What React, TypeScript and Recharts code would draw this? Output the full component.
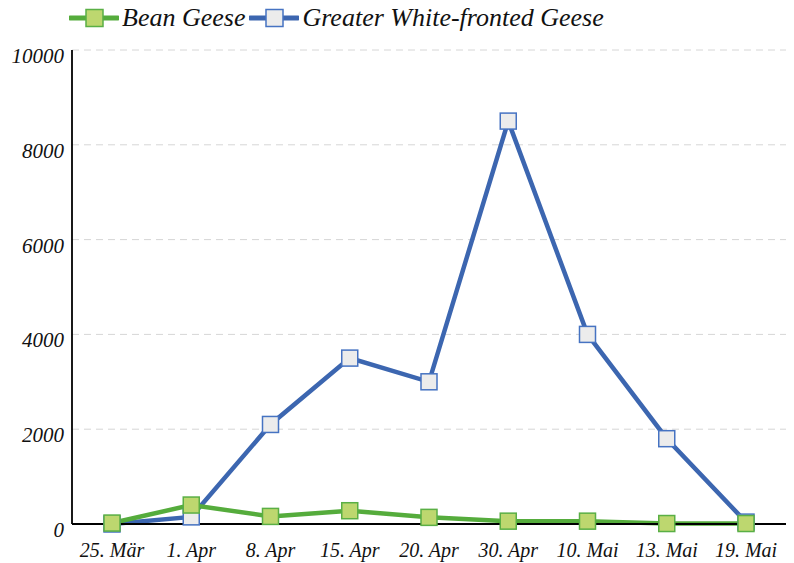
import React from "react";
import { LineChart, Line, XAxis, YAxis, CartesianGrid } from "recharts";

// survey dates
const dates = ["25. Mär", "1. Apr", "8. Apr", "15. Apr", "20. Apr", "30. Apr", "10. Mai", "13. Mai", "19. Mai"];
// counts
const beanGeese = [20, 400, 160, 280, 140, 60, 60, 10, 10];
const whiteFronted = [0, 150, 2100, 3500, 3000, 8500, 4000, 1800, 40];
const yTicks = [0, 2000, 4000, 6000, 8000, 10000];

const data = dates.map((date, i) => ({
    date,
    bean: beanGeese[i],
    white: whiteFronted[i],
}));

const FONT = "'Liberation Serif', 'DejaVu Serif', serif";

const GREEN_LINE = "#55ac3c";
const GREEN_FILL = "#bdd76f";
const GREEN_EDGE = "#5aaf45";
const BLUE_LINE = "#3c66b0";
const BLUE_FILL = "#ececec";
const BLUE_EDGE = "#4673c2";

function squareDot(fill: string, stroke: string) {
    return (props: any) => {
        const { cx, cy, index } = props;
        if (cx == null || cy == null) return <g key={index} />;
        return (
            <rect key={index} x={cx - 8} y={cy - 8} width={16} height={16} fill={fill} stroke={stroke} strokeWidth={1.5} />
        );
    };
}

function XTick(props: any) {
    const { x, y, payload } = props;
    return (
        <text x={x} y={y} dy={25} textAnchor="middle" fontFamily={FONT} fontStyle="italic" fontSize={20} fill="#111">
            {payload.value}
        </text>
    );
}

function YTick(props: any) {
    const { x, y, payload } = props;
    return (
        <text x={x} y={y} dy={13} textAnchor="end" fontFamily={FONT} fontStyle="italic" fontSize={21} fill="#111">
            {payload.value}
        </text>
    );
}

function LegendItem({ label, line, fill, edge }: { label: string; line: string; fill: string; edge: string }) {
    return (
        <div style={{ display: "flex", alignItems: "center" }}>
            <svg width={50} height={20} style={{ display: "block" }}>
                <line x1={1} y1={10} x2={49} y2={10} stroke={line} strokeWidth={5} strokeLinecap="round" />
                <rect x={17} y={1.5} width={17} height={17} fill={fill} stroke={edge} strokeWidth={1.5} />
            </svg>
            <span style={{ marginLeft: 3, marginRight: 4 }}>{label}</span>
        </div>
    );
}

export default function App() {
    return (
        <div style={{ position: "absolute", left: 0, top: 0, width: 794, height: 563, background: "#fff" }}>
            <div
                style={{
                    position: "absolute",
                    left: 69,
                    top: 3,
                    display: "flex",
                    fontFamily: FONT,
                    fontStyle: "italic",
                    fontSize: 26,
                    color: "#111",
                    lineHeight: "30px",
                }}
            >
                <LegendItem label="Bean Geese" line={GREEN_LINE} fill={GREEN_FILL} edge={GREEN_EDGE} />
                <LegendItem label="Greater White-fronted Geese" line={BLUE_LINE} fill={BLUE_FILL} edge={BLUE_EDGE} />
            </div>
            <LineChart width={794} height={563} data={data} margin={{ top: 50, right: 8, left: 0, bottom: 0 }}>
                <CartesianGrid vertical={false} stroke="#d6d6d6" strokeDasharray="7 5" />
                <XAxis
                    dataKey="date"
                    interval={0}
                    height={39}
                    padding={{ left: 40, right: 40 }}
                    axisLine={{ stroke: "#000", strokeWidth: 1.8 }}
                    tickLine={false}
                    tick={<XTick />}
                />
                <YAxis
                    width={72}
                    domain={[0, 10000]}
                    ticks={yTicks}
                    interval={0}
                    axisLine={{ stroke: "#000", strokeWidth: 1.8 }}
                    tickLine={false}
                    tick={<YTick />}
                />
                <Line
                    type="linear"
                    dataKey="white"
                    stroke={BLUE_LINE}
                    strokeWidth={4.5}
                    dot={squareDot(BLUE_FILL, BLUE_EDGE)}
                    activeDot={false}
                    isAnimationActive={false}
                />
                <Line
                    type="linear"
                    dataKey="bean"
                    stroke={GREEN_LINE}
                    strokeWidth={4.5}
                    dot={squareDot(GREEN_FILL, GREEN_EDGE)}
                    activeDot={false}
                    isAnimationActive={false}
                />
            </LineChart>
        </div>
    );
}
